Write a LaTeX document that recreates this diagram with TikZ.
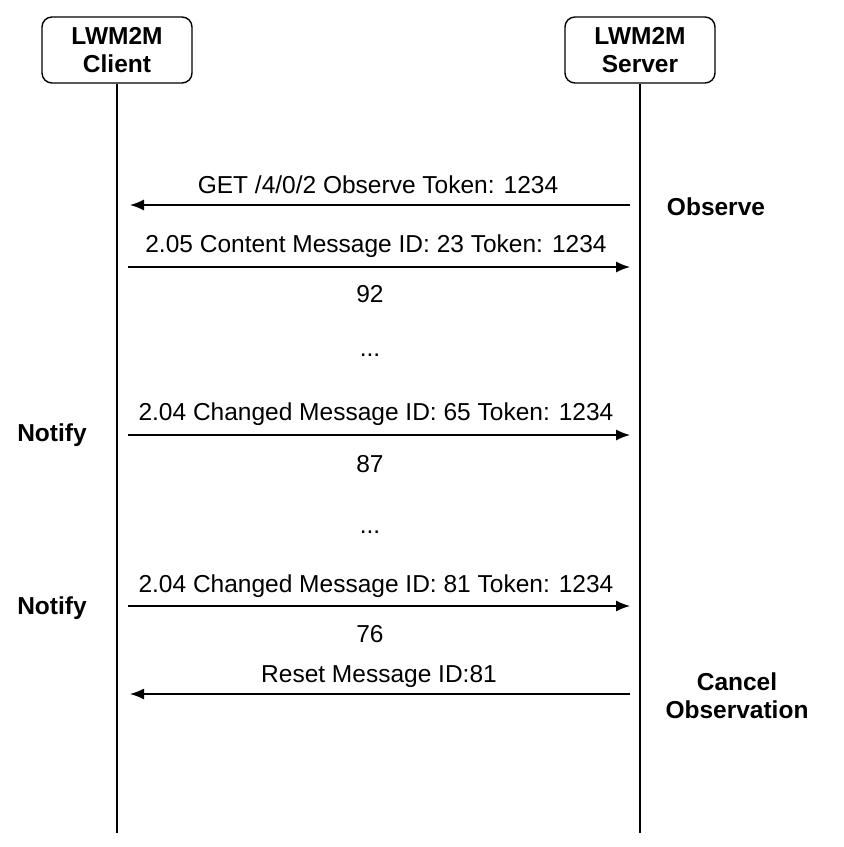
\documentclass[tikz,border=0pt]{standalone}
\usepackage{fontspec}
\setmainfont{Liberation Sans}
\usetikzlibrary{arrows.meta}
\begin{document}
\begin{tikzpicture}[x=1pt,y=-1pt,
  actor/.style={draw, line width=1.4pt, rounded corners=10pt, minimum width=150pt, minimum height=66pt, align=center, font=\fontsize{24.5}{28}\selectfont\bfseries, inner sep=0pt},
  life/.style={line width=1.4pt},
  msg/.style={line width=1.4pt, -{Latex[length=14pt,width=11pt]}},
  lbl/.style={anchor=base, inner sep=0pt, font=\fontsize{24.5}{28}\selectfont},
  side/.style={anchor=base, inner sep=0pt, font=\fontsize{24.5}{28}\selectfont\bfseries, align=center}
]
\useasboundingbox (0,0) rectangle (844,847);
\node[actor] (client) at (117,50) {LWM2M\\Client};
\node[actor] (server) at (640,50) {LWM2M\\Server};
\coordinate (cend) at (117,833);
\coordinate (send) at (640,833);
\draw[life] (client.south) -- (client.south |- cend);
\draw[life] (server.south) -- (server.south |- send);

% messages
\coordinate (s1) at (630,205); \coordinate (c1) at (130,205);
\coordinate (c2) at (128,267); \coordinate (s2) at (630,267);
\coordinate (c3) at (128,435); \coordinate (s3) at (630,435);
\coordinate (c4) at (128,606); \coordinate (s4) at (630,606);
\coordinate (s5) at (630,694); \coordinate (c5) at (130,694);
\draw[msg] (s1) -- (c1);
\draw[msg] (c2) -- (s2);
\draw[msg] (c3) -- (s3);
\draw[msg] (c4) -- (s4);
\draw[msg] (s5) -- (c5);

\node[lbl] (t1) at (378,193) {GET /4/0/2 Observe Token: 1234};
\node[lbl] (t2) at (376,252) {2.05 Content Message ID: 23 Token: 1234};
\node[lbl] (n92) at (370,302) {92};
\node[lbl] (d1) at (370,356) {...};
\node[lbl] (t3) at (376,420) {2.04 Changed Message ID: 65 Token: 1234};
\node[lbl] (n87) at (370,472) {87};
\node[lbl] (d2) at (370,533) {...};
\node[lbl] (t4) at (376,592) {2.04 Changed Message ID: 81 Token: 1234};
\node[lbl] (n76) at (370,642) {76};
\node[lbl] (t5) at (379,682) {Reset Message ID:81};

\node[side] (obs) at (716,215) {Observe};
\node[side] (nt1) at (52,441) {Notify};
\node[side] (nt2) at (52,614) {Notify};
\node[side] (cn1) at (737,690) {Cancel};
\node[side] (cn2) at (737,718) {Observation};
\end{tikzpicture}
\end{document}
